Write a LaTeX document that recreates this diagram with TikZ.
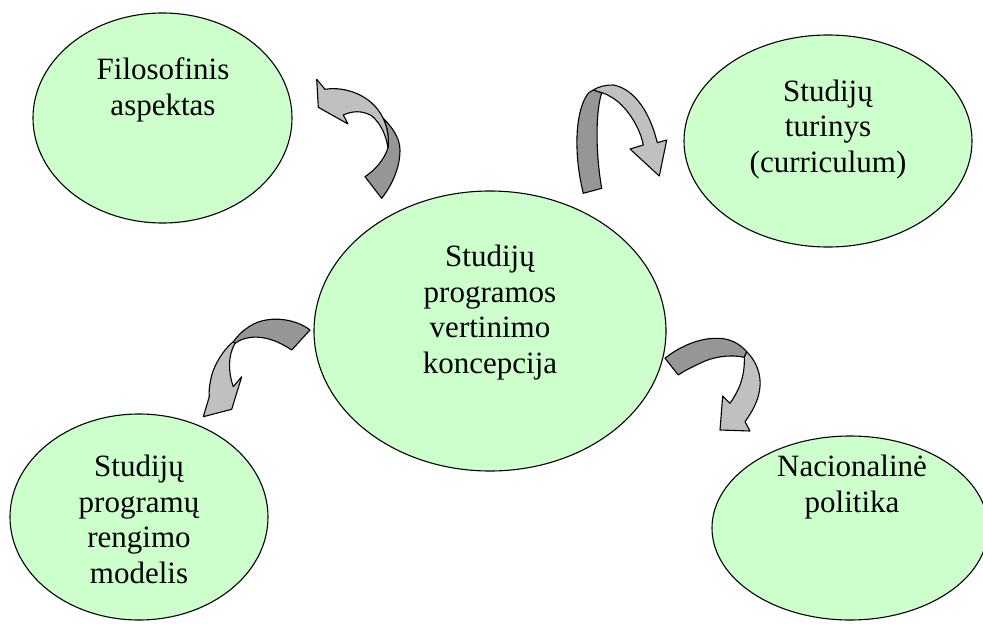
\documentclass[tikz,border=0pt]{standalone}
\usepackage{fontspec}
\setmainfont{Liberation Serif}
\usetikzlibrary{shapes.geometric}
\definecolor{bubblegreen}{HTML}{CCFFCC}
\definecolor{arrdark}{HTML}{969696}
\definecolor{arrlight}{HTML}{C0C0C0}
\begin{document}
\begin{tikzpicture}[x=1pt,y=-1pt,
  bubble/.style={ellipse, draw=black, line width=1.1pt, fill=bubblegreen, inner sep=0pt},
  txt/.style={anchor=base, align=center, inner sep=0pt, font=\fontsize{31}{35.5}\selectfont},
  darkpart/.style={draw=black, line width=1.1pt, line join=round, fill=arrdark},
  lightpart/.style={draw=black, line width=1.1pt, line join=round, fill=arrlight}]
\useasboundingbox (0,0) rectangle (983,624);

% ellipses
\node[bubble, minimum width=259pt, minimum height=210pt] (filo) at (162.5,118) {};
\node[bubble, minimum width=288pt, minimum height=212pt] (tur) at (828,141) {};
\node[bubble, minimum width=352pt, minimum height=280pt] (cent) at (490,331) {};
\node[bubble, minimum width=258pt, minimum height=206pt] (model) at (139,517) {};
\node[bubble, minimum width=276pt, minimum height=184pt] (nac) at (850,528) {};

% texts (anchor = baseline of the last line)
\node[txt] (tfilo) at (163,115) {Filosofinis\\aspektas};
\node[txt] (ttur) at (828,172) {Studijų\\turinys\\(curriculum)};
\node[txt] (tcent) at (490,373) {Studijų\\programos\\vertinimo\\koncepcija};
\node[txt] (tmodel) at (139,583) {Studijų\\programų\\rengimo\\modelis};
\node[txt] (tnac) at (852,512) {Nacionalinė\\politika};

% arrow 1 (top-left)
\draw[darkpart] (383,118) .. controls (392,127) and (400,138) .. (400,150)
  .. controls (400,168) and (392,185) .. (381.7,198.3) -- (365,176.7)
  .. controls (375,170) and (384,160) .. (388,148)
  .. controls (389,140) and (388,128) .. (383,118) -- cycle;
\draw[lightpart] (316.7,79.3) -- (325,89.3) .. controls (345,86) and (372,95) .. (383,118)
  .. controls (388,128) and (389,140) .. (388,148)
  .. controls (386,135) and (381,124) .. (372,116)
  .. controls (362,110) and (352,111) .. (343.3,115) -- (348,124) -- (318.3,107.3) -- cycle;

% arrow 2 (top-right)
\draw[darkpart] (583.3,193.3) .. controls (575,160) and (574,120) .. (585,98.3)
  .. controls (588,93) and (590,91) .. (593.3,90) -- (601.7,92.7)
  .. controls (596,110) and (595,150) .. (601.7,188.3) -- cycle;
\draw[lightpart] (593.3,90) .. controls (600,86) and (606,85) .. (613.3,85)
  .. controls (630,88) and (648,105) .. (657.3,142.7) -- (666.7,140) -- (659.3,176)
  -- (630,149) -- (643.3,145) .. controls (640,128) and (628,108) .. (613.3,98.3)
  .. controls (608,95) and (604,93) .. (601.7,92.7) -- cycle;

% arrow 3 (bottom-left)
\draw[darkpart] (310,330) .. controls (295,318) and (265,314) .. (246.7,328.3)
  .. controls (241,332) and (237,337) .. (233.3,341.7) -- (235,343.3)
  .. controls (245,336) and (265,332) .. (291.7,350) -- cycle;
\draw[lightpart] (233.3,341.7) .. controls (225,348) and (213,365) .. (210.7,380)
  .. controls (209,388) and (209,392) .. (209.3,396.7) -- (203.3,416.7) -- (231.7,409.3)
  -- (241.7,376.7) -- (233.3,386.7) .. controls (228,372) and (228,355) .. (235,343.3) -- cycle;

% arrow 4 (bottom-right)
\draw[darkpart] (665,358.3) .. controls (680,346) and (700,338) .. (716.7,338.3)
  .. controls (730,338) and (740,344) .. (746.7,351.7) -- (744.3,357.3)
  .. controls (730,354) and (712,357) .. (700,363.3)
  .. controls (692,367) and (684,371) .. (678.3,375) -- cycle;
\draw[lightpart] (746.7,351.7) .. controls (757,362) and (761,375) .. (760,386.7)
  .. controls (759,400) and (752,412) .. (745,421.7) -- (750,431) -- (720,430)
  -- (722.7,396) -- (730,403.3) .. controls (738,392) and (745,378) .. (744.3,357.3) -- cycle;
\end{tikzpicture}
\end{document}
